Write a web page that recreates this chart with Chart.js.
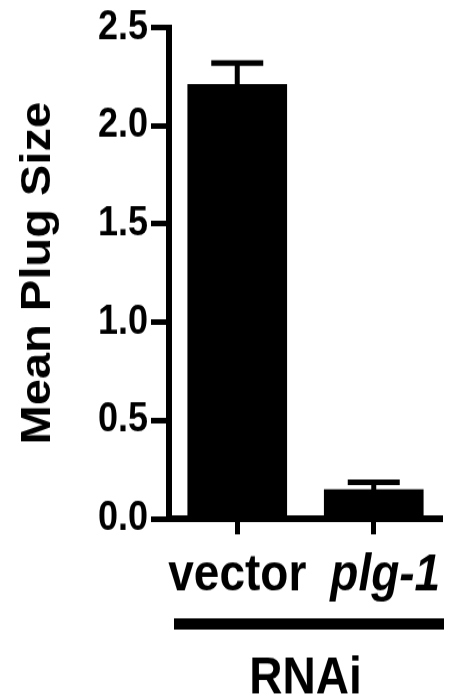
<!DOCTYPE html>
<html>
<head>
<meta charset="utf-8">
<script src="https://cdn.jsdelivr.net/npm/chart.js@4"></script>
<style>
  html, body { margin: 0; padding: 0; background: #fff; }
  body { width: 454px; height: 699px; }
  /* the reference is stretched vertically, so draw at 454x624 and stretch */
  #wrap { width: 454px; height: 624px; transform: scale(1, 1.1202); transform-origin: 0 0; }
</style>
</head>
<body>
<div id="wrap"><canvas id="plug-chart" width="454" height="624"></canvas></div>
<script>
const categories = ['vector', 'plg-1'];
const meanPlug = [2.21, 0.148];
const semPlug = [0.11, 0.038];
const yMax = 2.5;
const yStep = 0.5;

const FONT = 'Liberation Sans, Arial, sans-serif';

/* Error bars (upper only) */
const errorBars = {
  id: 'errorBars',
  afterDatasetsDraw(chart) {
    const ctx = chart.ctx;
    const yScale = chart.scales.y;
    const meta = chart.getDatasetMeta(0);
    ctx.save();
    ctx.strokeStyle = '#000';
    ctx.lineWidth = 5;
    meta.data.forEach((bar, i) => {
      const top = yScale.getPixelForValue(meanPlug[i] + semPlug[i]);
      ctx.beginPath();
      ctx.moveTo(bar.x, bar.y);
      ctx.lineTo(bar.x, top);
      ctx.stroke();
      ctx.beginPath();
      ctx.moveTo(bar.x - 26, top);
      ctx.lineTo(bar.x + 26, top);
      ctx.stroke();
    });
    ctx.restore();
  }
};

/* Bar under the group labels */
const rnaiBar = {
  id: 'rnaiBar',
  afterDraw(chart) {
    const {ctx, chartArea} = chart;
    ctx.save();
    ctx.fillStyle = '#000';
    ctx.fillRect(chartArea.left + 5, chartArea.bottom + 89, chartArea.right - chartArea.left - 3, 10);
    ctx.restore();
  }
};

const ctxPlug = document.getElementById('plug-chart').getContext('2d');
new Chart(ctxPlug, {
  type: 'bar',
  data: {
    labels: categories,
    datasets: [{
      data: meanPlug,
      backgroundColor: '#000',
      borderWidth: 0,
      barThickness: 99
    }]
  },
  options: {
    responsive: false,
    animation: false,
    layout: { padding: { top: 24, right: 12, left: 0, bottom: 0 } },
    plugins: { legend: { display: false }, tooltip: { enabled: false } },
    scales: {
      x: {
        offset: true,
        grid: { offset: false, drawOnChartArea: false, tickLength: 14, tickWidth: 5, tickColor: '#000' },
        border: { color: '#000', width: 6 },
        ticks: {
          color: '#000',
          padding: 10,
          autoSkip: false,
          maxRotation: 0,
          minRotation: 0,
          // the italic label sits a little right of its tick in the original
          callback: (v, i) => (i === 1 ? '\u2002' : '') + categories[i],
          font: (c) => ({ family: FONT, size: 46, weight: 'bold', style: c.index === 1 ? 'italic' : 'normal' })
        },
        title: {
          display: true,
          text: 'RNAi',
          color: '#000',
          font: { family: FONT, size: 46, weight: 'bold', lineHeight: 0.76 },
          padding: 0
        },
        afterFit: (s) => { s.height = 161; }
      },
      y: {
        min: 0,
        max: yMax,
        ticks: {
          stepSize: yStep,
          callback: (v) => v.toFixed(1),
          color: '#000',
          padding: 3,
          font: { family: FONT, size: 36, weight: 'bold' }
        },
        grid: { drawOnChartArea: false, tickLength: 18, tickWidth: 5, tickColor: '#000' },
        border: { color: '#000', width: 6 },
        title: {
          display: true,
          text: 'Mean Plug Size',
          color: '#000',
          font: { family: FONT, size: 42, weight: 'bold', lineHeight: 1 },
          padding: { top: 17, bottom: 0 }
        },
        afterFit: (s) => { s.width = 169; }
      }
    }
  },
  plugins: [errorBars, rnaiBar]
});
</script>
</body>
</html>
